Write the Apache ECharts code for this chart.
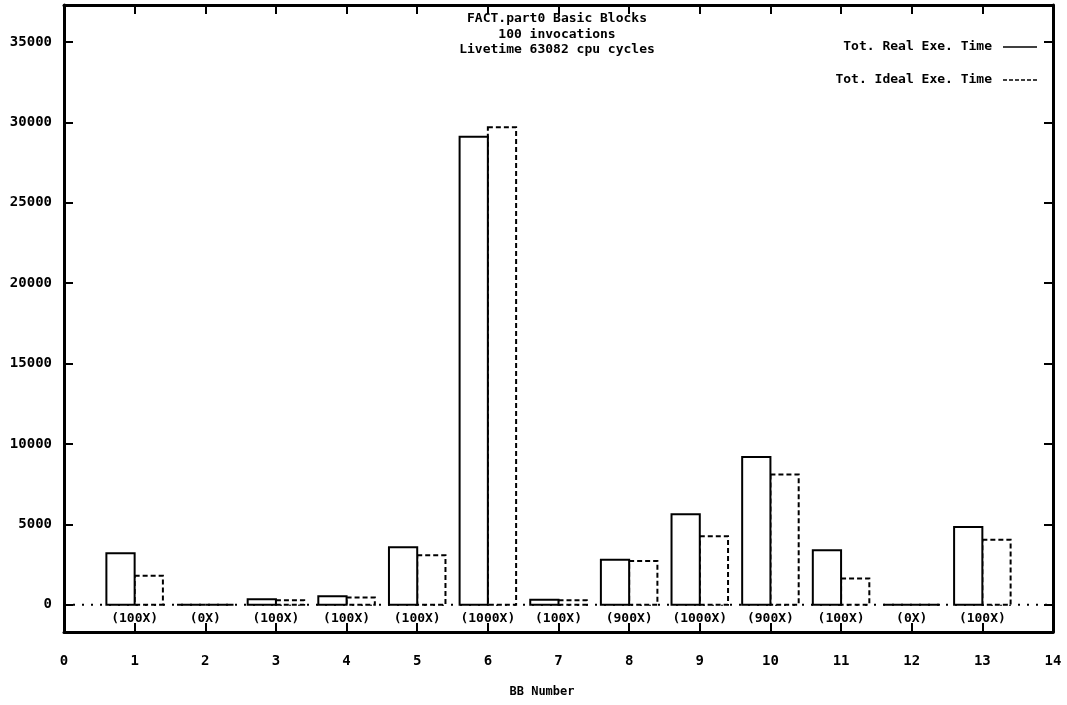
<!DOCTYPE html>
<html>
<head>
<meta charset="utf-8">
<title>FACT.part0 Basic Blocks</title>
<script src="https://cdn.jsdelivr.net/npm/echarts@6/dist/echarts.min.js"></script>
<style>
  html, body { margin: 0; padding: 0; background: #fff; }
  #chart { width: 1067px; height: 705px; }
</style>
</head>
<body>
<div id="chart"></div>
<script>
// basic block numbers
const bbNumbers = [1, 2, 3, 4, 5, 6, 7, 8, 9, 10, 11, 12, 13]
// total real / ideal execution time (cpu cycles)
const realTimes = [3200, 0, 330, 530, 3570, 29100, 310, 2800, 5620, 9180, 3380, 0, 4830]
const idealTimes = [1800, 0, 270, 450, 3070, 29700, 270, 2710, 4250, 8100, 1620, 0, 4040]
// execution counts printed under each block
const execCounts = ['(100X)', '(0X)', '(100X)', '(100X)', '(100X)', '(1000X)', '(100X)',
  '(900X)', '(1000X)', '(900X)', '(100X)', '(0X)', '(100X)']
const yTicks = [0, 5000, 10000, 15000, 20000, 25000, 30000, 35000]
const titleLines = ['FACT.part0 Basic Blocks', '100 invocations', 'Livetime 63082 cpu cycles']

const FONT = 'DejaVu Sans Mono'

const chart = echarts.init(document.getElementById('chart'))

// rectangle from x+from .. x+to, 0 .. value
function barRenderer(from, to, dashed) {
  return function (params, api) {
    const x = api.value(0)
    const v = api.value(1)
    const p0 = api.coord([x + from, v])
    const p1 = api.coord([x + to, 0])
    return {
      type: 'rect',
      shape: { x: p0[0], y: p0[1], width: p1[0] - p0[0], height: p1[1] - p0[1] },
      style: {
        fill: '#fff',
        stroke: '#000',
        lineWidth: 2,
        lineDash: dashed ? [5, 3] : null
      }
    }
  }
}

const frameTick = { inside: true, length: 9, lineStyle: { color: '#000', width: 2 } }
const frameLine = { show: true, onZero: false, lineStyle: { color: '#000', width: 3 } }

const option = {
  animation: false,
  grid: { left: 64, right: 14, top: 5, bottom: 73 },
  xAxis: [
    {
      type: 'value', min: 0, max: 14, interval: 1, position: 'bottom',
      axisLine: frameLine,
      axisTick: frameTick,
      axisLabel: { margin: 22, color: '#000', fontFamily: FONT, fontWeight: 'bold', fontSize: 14 },
      splitLine: { show: false }
    },
    {
      type: 'value', min: 0, max: 14, interval: 1, position: 'top',
      axisLine: frameLine,
      axisTick: frameTick,
      axisLabel: { show: false },
      splitLine: { show: false }
    }
  ],
  yAxis: [
    {
      type: 'value', min: -1700, max: 37300, position: 'left',
      axisLine: frameLine,
      axisTick: Object.assign({ customValues: yTicks }, frameTick),
      axisLabel: {
        customValues: yTicks, margin: 12, color: '#000',
        fontFamily: FONT, fontWeight: 'bold', fontSize: 14,
        formatter: v => String(v)
      },
      splitLine: { show: false }
    },
    {
      type: 'value', min: -1700, max: 37300, position: 'right',
      axisLine: frameLine,
      axisTick: Object.assign({ customValues: yTicks }, frameTick),
      axisLabel: { show: false },
      splitLine: { show: false }
    }
  ],
  graphic: [
    ...titleLines.map((t, i) => ({
      type: 'text', x: 557, y: 19 + i * 15.5,
      style: { text: t, align: 'center', verticalAlign: 'middle', fill: '#000',
        font: 'bold 13px "' + FONT + '"' }
    })),
    {
      type: 'text', x: 992, y: 47,
      style: { text: 'Tot. Real Exe. Time', align: 'right', verticalAlign: 'middle', fill: '#000',
        font: 'bold 13px "' + FONT + '"' }
    },
    {
      type: 'line', shape: { x1: 1003, y1: 47, x2: 1037, y2: 47 },
      style: { stroke: '#000', lineWidth: 1.5 }
    },
    {
      type: 'text', x: 992, y: 80,
      style: { text: 'Tot. Ideal Exe. Time', align: 'right', verticalAlign: 'middle', fill: '#000',
        font: 'bold 13px "' + FONT + '"' }
    },
    {
      type: 'line', shape: { x1: 1003, y1: 80, x2: 1037, y2: 80 },
      style: { stroke: '#000', lineWidth: 1.5, lineDash: [4, 2] }
    },
    {
      type: 'text', x: 542, y: 692,
      style: { text: 'BB Number', align: 'center', verticalAlign: 'middle', fill: '#000',
        font: 'bold 12px "' + FONT + '"' }
    }
  ],
  series: [
    {
      // zero axis
      type: 'line', z: 1, symbol: 'none', silent: true,
      data: [[0, 0], [14, 0]],
      lineStyle: { color: '#000', width: 2, type: [2, 7] }
    },
    {
      name: 'Tot. Real Exe. Time', type: 'custom', z: 3,
      renderItem: barRenderer(-0.4, 0, false),
      data: bbNumbers.map((b, i) => [b, realTimes[i]])
    },
    {
      name: 'Tot. Ideal Exe. Time', type: 'custom', z: 2,
      renderItem: barRenderer(0, 0.4, true),
      data: bbNumbers.map((b, i) => [b, idealTimes[i]])
    },
    {
      // execution counts under the bars
      type: 'custom', z: 4,
      renderItem: function (params, api) {
        const p = api.coord([api.value(0), 0])
        return {
          type: 'text', x: p[0], y: p[1] + 14,
          style: {
            text: execCounts[params.dataIndex], align: 'center', verticalAlign: 'middle',
            fill: '#000', font: 'bold 13px "' + FONT + '"'
          }
        }
      },
      data: bbNumbers.map(b => [b, 0])
    }
  ]
}

chart.setOption(option)
</script>
</body>
</html>
